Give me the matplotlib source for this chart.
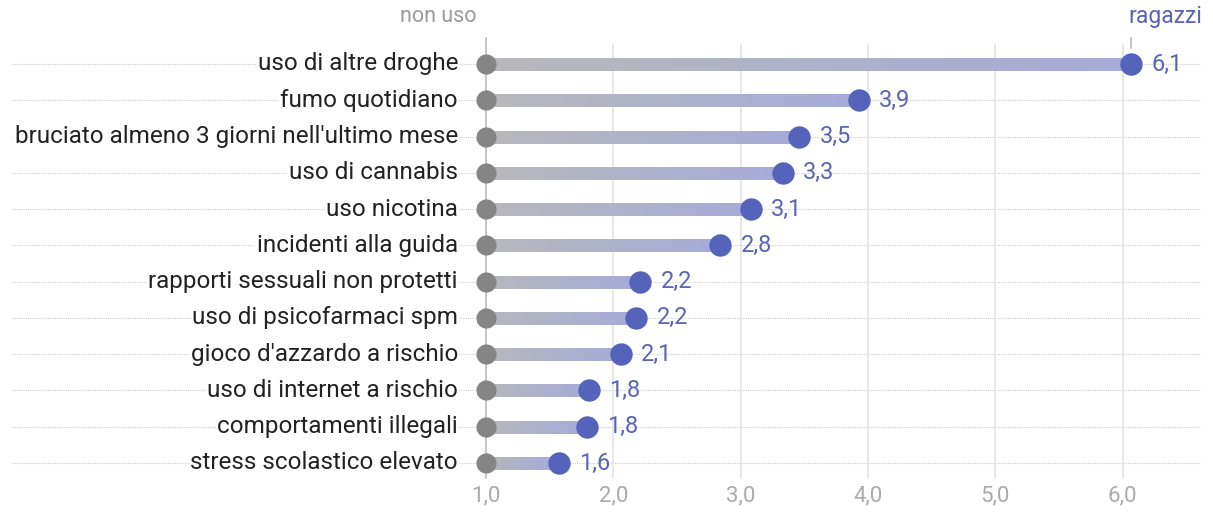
import matplotlib
matplotlib.use('Agg')
import matplotlib.pyplot as plt
from matplotlib.collections import LineCollection
import matplotlib.colors as mcolors
import numpy as np

plt.rcParams['font.family'] = ['Roboto', 'DejaVu Sans']

labels = ['uso di altre droghe', 'fumo quotidiano',
          "bruciato almeno 3 giorni nell'ultimo mese", 'uso di cannabis',
          'uso nicotina', 'incidenti alla guida',
          'rapporti sessuali non protetti', 'uso di psicofarmaci spm',
          "gioco d'azzardo a rischio", 'uso di internet a rischio',
          'comportamenti illegali', 'stress scolastico elevato']
ragazzi = [6.07, 3.93, 3.46, 3.33, 3.08, 2.84, 2.21, 2.18, 2.06, 1.81, 1.79, 1.57]
non_uso = [1.0] * len(labels)
xticks = [1, 2, 3, 4, 5, 6]

W, H = 1213, 516
fig = plt.figure(figsize=(W / 100, H / 100), dpi=100)
ax = fig.add_axes([0, 0, 1, 1])
ppu = 127.3   # pixels per unit on x
x0 = 486      # pixel of x=1
row = 36.27
y0 = 64
ax.set_xlim(1 - x0 / ppu, 1 + (W - x0) / ppu)
ax.set_ylim((H - y0) / row, -y0 / row)
ax.axis('off')

grid_col = '#e3e3e3'
# horizontal dotted lines
for i in range(len(labels)):
    ax.plot([1 - 474 / ppu, 1 + 714 / ppu], [i, i], color='#d0d0d0', lw=0.8,
            ls=(0, (1, 1)), zorder=1)
# vertical grid lines
for t in xticks:
    top = -0.72 if t == 1 else -0.52
    ax.plot([t, t], [top, 11.42], color='#bbbbbb' if t == 1 else grid_col,
            lw=1.2, zorder=1)
    ax.text(t, 11.9, f'{t:.1f}'.replace('.', ','), ha='center', va='center',
            fontsize=16, color='#ababab')

c0 = np.array(mcolors.to_rgb('#b8b8ba'))
c1 = np.array(mcolors.to_rgb('#a5acd8'))
for i, (a, b) in enumerate(zip(non_uso, ragazzi)):
    xs = np.linspace(a, b, 60)
    segs = [[(xs[k], i), (xs[k + 1], i)] for k in range(len(xs) - 1)]
    cols = [c0 + (c1 - c0) * k / (len(xs) - 2) for k in range(len(xs) - 1)]
    ax.add_collection(LineCollection(segs, colors=cols, linewidths=9,
                                     capstyle='projecting', antialiaseds=False,
                                     zorder=2))
    ax.scatter(a, i, s=210, color='#858585', zorder=3, linewidths=0)
    ax.scatter(b, i, s=260, color='#5563bb', zorder=4, linewidths=0)
    ax.text(b + 0.16, i, f'{b:.1f}'.replace('.', ','), ha='left', va='center',
            fontsize=17, color='#5a64b4', zorder=5)
    ax.text(1 - 28 / ppu, i, labels[i], ha='right', va='center', fontsize=17.5,
            color='#222222', zorder=5,
            bbox=dict(facecolor='white', edgecolor='none', pad=1))

# series headers
ax.text(1 - 10 / ppu, -1.3, 'non uso', ha='right', va='center', fontsize=15.5,
        color='#9a9a9a')
ax.plot([ragazzi[0], ragazzi[0]], [-0.72, -0.45], color='#bbbbbb', lw=1.2)
ax.text(ragazzi[0] - 0.02, -1.3, 'ragazzi', ha='left', va='center',
        fontsize=16.5, color='#5a64b4')

fig.savefig('out.png', dpi=100)
